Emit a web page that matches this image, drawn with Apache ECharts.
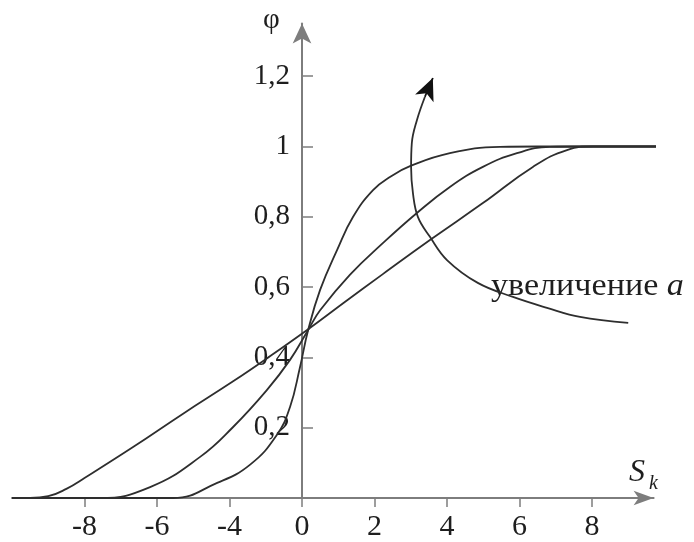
<!DOCTYPE html>
<html>
<head>
<meta charset="utf-8">
<script src="https://cdn.jsdelivr.net/npm/echarts@6/dist/echarts.min.js"></script>
<style>html,body{margin:0;padding:0;background:#fff;}#c{width:694px;height:542px;}</style>
</head>
<body>
<div id="c"></div>
<script>
// Tick positions (axis values) and the labels printed at them
const xTickValues = [-6, -4, -2, 0, 2, 4, 6, 8];
const xTickLabels = ['-8', '-6', '-4', '0', '2', '4', '6', '8'];
const yTickValues = [0.2, 0.4, 0.6, 0.8, 1, 1.2];
const yTickLabels = ['0,2', '0,4', '0,6', '0,8', '1', '1,2'];

// Curve 1 (flattest)
const curve1X = [-8, -7.5, -7.0, -6.5, -6.0, -4.66, -3.28, -1.9, -0.97, 0.17, 1.2, 2.23, 3.53, 4.99, 6.37, 7.31, 8.03, 10.8];
const curve1Y = [0, 0, 0.005, 0.026, 0.057, 0.145, 0.24, 0.332, 0.397, 0.48, 0.559, 0.637, 0.734, 0.839, 0.942, 0.99, 1.0, 1.0];
// Curve 2 (middle)
const curve2X = [-8, -5.57, -4.19, -2.81, -1.9, -0.97, -0.33, 0.17, 0.5, 1.32, 2.23, 3.17, 4.08, 4.99, 5.93, 6.84, 7.75, 10.8];
const curve2Y = [0, 0, 0.031, 0.117, 0.202, 0.307, 0.393, 0.478, 0.534, 0.635, 0.725, 0.811, 0.885, 0.942, 0.981, 0.999, 1.0, 1.0];
// Curve 3 (steepest)
const curve3X = [-8, -3.56, -2.34, -1.43, -0.69, -0.33, -0.06, 0.17, 0.5, 0.97, 1.41, 1.96, 2.45, 2.98, 4.08, 5.46, 6.5, 10.8];
const curve3Y = [0, 0, 0.043, 0.095, 0.18, 0.259, 0.37, 0.478, 0.592, 0.706, 0.8, 0.876, 0.915, 0.944, 0.981, 0.999, 1.0, 1.0];
// Annotation arrow path ("увеличение a")
const arrowX = [9.0, 7.67, 6.76, 5.82, 4.85, 4.0, 3.53, 3.2, 3.06, 3.01, 3.03, 3.17, 3.39];
const arrowY = [0.498, 0.515, 0.541, 0.572, 0.612, 0.677, 0.743, 0.799, 0.868, 0.942, 1.01, 1.075, 1.141];
const arrowHeadFrom = [3.39, 1.141];
const arrowHeadTo = [3.61, 1.195];

const zip = (xs, ys) => xs.map((x, i) => [x, ys[i]]);
const AXIS_COLOR = '#7d7d7d';
const INK = '#2e2e2e';
const SERIF = 'Liberation Serif';

const GRID_LEFT = 12;
const ZERO_X = 302;

const chart = echarts.init(document.getElementById('c'), null, { renderer: 'canvas' });

function curve(xs, ys) {
  return {
    type: 'line', data: zip(xs, ys), smooth: 0.45,
    symbol: 'none', clip: false, silent: true,
    lineStyle: { color: INK, width: 1.8 }
  };
}

chart.setOption({
  animation: false,
  backgroundColor: '#fff',
  textStyle: { fontFamily: SERIF },
  grid: { left: GRID_LEFT, right: 40.4, top: 23.5, bottom: 44, containLabel: false, outerBoundsMode: 'none' },
  xAxis: {
    type: 'value', min: -8, max: 9.7,
    splitLine: { show: false },
    axisLine: { show: true, onZero: false, symbol: ['none', 'arrow'], symbolSize: [11, 20],
      lineStyle: { color: AXIS_COLOR, width: 2 } },
    axisTick: { show: true, customValues: xTickValues, inside: false, length: 9,
      lineStyle: { color: AXIS_COLOR, width: 1.5 } },
    axisLabel: { show: true, customValues: xTickValues,
      formatter: v => xTickLabels[xTickValues.indexOf(v)],
      fontFamily: SERIF, fontSize: 30, color: '#1e1e1e', margin: 14 }
  },
  yAxis: {
    type: 'value', min: 0, max: 1.35, position: 'left', offset: -(ZERO_X - GRID_LEFT),
    splitLine: { show: false },
    axisLine: { show: true, onZero: false, symbol: ['none', 'arrow'], symbolSize: [14, 20],
      lineStyle: { color: AXIS_COLOR, width: 2 } },
    axisTick: { show: true, customValues: yTickValues, inside: true, length: 11,
      lineStyle: { color: AXIS_COLOR, width: 1.5 } },
    axisLabel: { show: true, customValues: yTickValues,
      formatter: v => yTickLabels[yTickValues.indexOf(v)],
      fontFamily: SERIF, fontSize: 29, color: '#1e1e1e', margin: 12 }
  },
  series: [
    curve(curve1X, curve1Y),
    curve(curve2X, curve2Y),
    curve(curve3X, curve3Y),
    {
      type: 'line', data: zip(arrowX, arrowY), smooth: 0.4, symbol: 'none', clip: false, silent: true,
      lineStyle: { color: INK, width: 1.8 },
      markLine: {
        silent: true, symbol: ['none', 'arrow'], symbolSize: [15, 22],
        label: { show: false },
        lineStyle: { color: '#111', width: 1.8, type: 'solid' },
        data: [[{ coord: arrowHeadFrom }, { coord: arrowHeadTo }]]
      }
    }
  ],
  graphic: [
    { type: 'text', left: 263, top: 6, silent: true,
      style: { text: 'φ', font: '29px Liberation Serif', fill: '#1e1e1e' } },
    { type: 'text', left: 629, top: 457, silent: true,
      style: { text: '{s|S}{k|k}', rich: {
        s: { fontFamily: SERIF, fontStyle: 'italic', fontSize: 32, fill: '#1e1e1e', color: '#1e1e1e' },
        k: { fontFamily: SERIF, fontStyle: 'italic', fontSize: 20, fill: '#1e1e1e', color: '#1e1e1e', padding: [22, 0, 0, 4] }
      } } },
    { type: 'text', left: 491, top: 271, scaleX: 1.1, silent: true,
      style: { text: '{t|увеличение }{a|a}', rich: {
        t: { fontFamily: SERIF, fontSize: 31, color: '#1e1e1e', fill: '#1e1e1e' },
        a: { fontFamily: SERIF, fontStyle: 'italic', fontSize: 31, color: '#1e1e1e', fill: '#1e1e1e' }
      } } }
  ]
});
</script>
</body>
</html>
